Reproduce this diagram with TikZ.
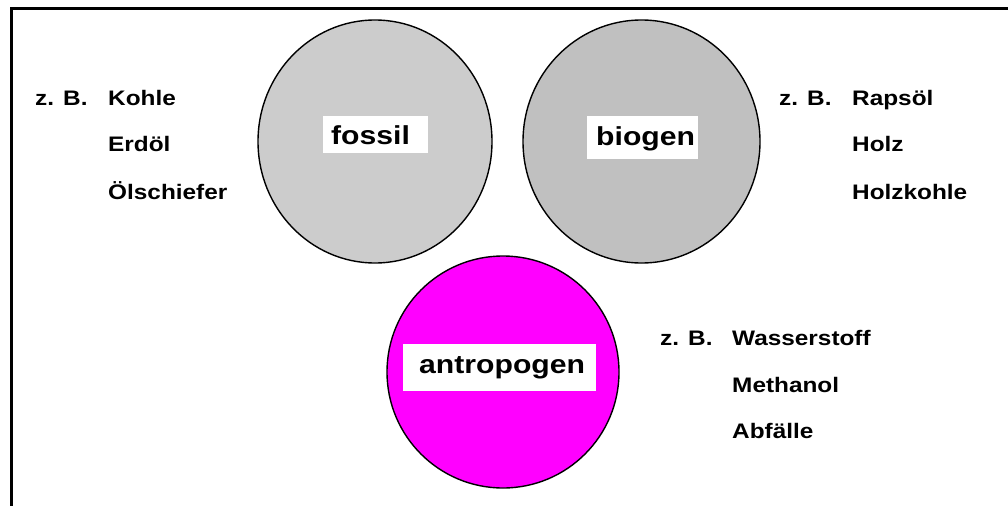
\documentclass[tikz,border=0pt]{standalone}
\usepackage{fontspec}
\setmainfont[FakeStretch=1.16]{Liberation Sans}
\definecolor{fossilgray}{RGB}{204,204,204}
\definecolor{biogray}{RGB}{192,192,192}
\definecolor{magentaA}{RGB}{255,0,255}
\begin{document}
\begin{tikzpicture}[x=1pt,y=-1pt,
  frameline/.style={line width=3pt},
  disc/.style={draw=black,line width=1.4pt},
  labelbox/.style={fill=white,draw=none,inner sep=0pt},
  labeltext/.style={anchor=base west,inner sep=0pt,font=\fontsize{26}{30}\selectfont\bfseries},
  listtext/.style={anchor=base west,inner sep=0pt,font=\fontsize{21}{25}\selectfont\bfseries}]
\useasboundingbox (0,0) rectangle (1008,506);
% frame (top and left only)
\draw[frameline] (1008,8.5) -- (11.5,8.5) -- (11.5,506);
% circles
\draw[disc,fill=fossilgray] (375,141.5) ellipse [x radius=117, y radius=121.5];
\draw[disc,fill=biogray] (641.5,141.5) ellipse [x radius=118.5, y radius=121.5];
\draw[disc,fill=magentaA] (503,372) circle [radius=116];
% label boxes
\node[labelbox,minimum width=105pt,minimum height=37pt] (fbox) at (375.5,134.5) {};
\node[labelbox,minimum width=111pt,minimum height=43pt] (bbox) at (642.5,137.5) {};
\node[labelbox,minimum width=193pt,minimum height=47pt] (abox) at (499.5,367.5) {};
\node[labeltext] (fossil) at (331,144) {fossil};
\node[labeltext] (biogen) at (596,145) {biogen};
\node[labeltext] (antro) at (419,373) {antropogen};
% left list
\node[listtext] (zb1) at (35,105) {z. B.};
\node[listtext] (l1) at (108,105) {Kohle};
\node[listtext] (l2) at (108,151) {Erdöl};
\node[listtext] (l3) at (108,199) {Ölschiefer};
% right top list
\node[listtext] (zb2) at (779,105) {z. B.};
\node[listtext] (r1) at (852,105) {Rapsöl};
\node[listtext] (r2) at (852,151) {Holz};
\node[listtext] (r3) at (852,199) {Holzkohle};
% right bottom list
\node[listtext] (zb3) at (660,345) {z. B.};
\node[listtext] (b1) at (732,345) {Wasserstoff};
\node[listtext] (b2) at (732,392) {Methanol};
\node[listtext] (b3) at (732,438) {Abfälle};
\end{tikzpicture}
\end{document}
